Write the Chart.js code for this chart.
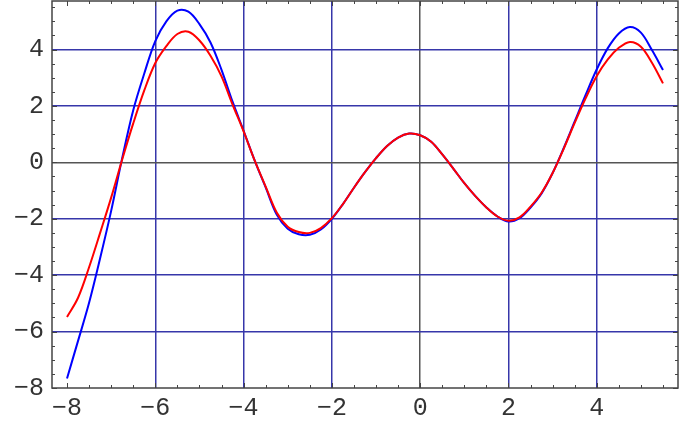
<!DOCTYPE html>
<html>
<head>
  <meta charset="UTF-8">
  <title>Curves</title>
  <script src="https://cdn.jsdelivr.net/npm/chart.js"></script>
  <style>
    * { margin: 0; padding: 0; box-sizing: border-box; }
    body { background: #fff; width: 685px; height: 424px; overflow: hidden; }
    canvas { display: block; }
  </style>
</head>
<body>
  <canvas id="plot" width="685" height="424"></canvas>

  <script>
    // sample positions along x
    const xs = [-8, -7.75, -7.5, -7.25, -7, -6.75, -6.5, -6.25, -6, -5.75, -5.5, -5.25, -5, -4.75, -4.5, -4.25,
      -4, -3.75, -3.5, -3.25, -3, -2.75, -2.5, -2.25, -2, -1.75, -1.5, -1.25, -1, -0.75, -0.5, -0.25,
      0, 0.25, 0.5, 0.75, 1, 1.25, 1.5, 1.75, 2, 2.25, 2.5, 2.75, 3, 3.25, 3.5, 3.75, 4, 4.25, 4.5, 4.75, 5, 5.25, 5.5];

    const blueY = [-7.66, -6.33, -4.98, -3.4, -1.72, 0.15, 1.85, 3.15, 4.3, 5.0, 5.38, 5.34, 4.9, 4.25, 3.28, 2.15,
      1.12, 0.07, -0.89, -1.85, -2.35, -2.55, -2.57, -2.38, -2.0, -1.48, -0.9, -0.35, 0.15, 0.58, 0.88, 1.02,
      0.96, 0.73, 0.28, -0.22, -0.74, -1.2, -1.6, -1.92, -2.1, -1.98, -1.6, -1.1, -0.38, 0.5, 1.45, 2.4, 3.3, 4.05, 4.57, 4.8, 4.6, 3.98, 3.27];

    const redY = [-5.48, -4.8, -3.72, -2.5, -1.25, 0.1, 1.38, 2.55, 3.52, 4.12, 4.55, 4.63, 4.32, 3.78, 3.05, 2.05,
      1.1, 0.07, -0.86, -1.78, -2.28, -2.47, -2.5, -2.33, -1.98, -1.48, -0.9, -0.35, 0.15, 0.58, 0.88, 1.02,
      0.96, 0.73, 0.28, -0.22, -0.74, -1.2, -1.6, -1.92, -2.07, -1.95, -1.57, -1.08, -0.38, 0.48, 1.4, 2.28, 3.06, 3.65, 4.06, 4.27, 4.1, 3.53, 2.8];

    const xTicks = [-8, -6, -4, -2, 0, 2, 4];
    const yTicks = [-8, -6, -4, -2, 0, 2, 4];

    const gridBlue = 'rgb(55,55,170)';
    const zeroColor = '#555';
    const frameColor = '#444';
    const labelFont = { family: "'Liberation Mono', 'DejaVu Sans Mono', monospace", size: 25 };

    const fmt = v => (v < 0 ? '\u2212' + Math.abs(v) : String(v));
    const gridColor = c => {
      const v = c.tick ? c.tick.value : null;
      if (v === 0) return zeroColor;
      if (v === -8) return 'rgba(0,0,0,0)';
      return gridBlue;
    };

    // frame around the plot + small ticks on all four sides
    const frameTicks = {
      id: 'frameTicks',
      afterDatasetsDraw(chart) {
        const { ctx, chartArea: a, scales: { x, y } } = chart;
        ctx.save();
        ctx.strokeStyle = frameColor;
        ctx.lineWidth = 1;
        ctx.beginPath();
        for (let v = -8; v <= 5.5; v += 0.5) {
          const px = Math.round(x.getPixelForValue(v)) + 0.5;
          const len = v % 2 === 0 ? 5 : 3;
          ctx.moveTo(px, a.bottom); ctx.lineTo(px, a.bottom - len);
          ctx.moveTo(px, a.top); ctx.lineTo(px, a.top + len);
        }
        for (let v = -8; v <= 5.5; v += 0.5) {
          const py = Math.round(y.getPixelForValue(v)) + 0.5;
          const len = v % 2 === 0 ? 5 : 3;
          ctx.moveTo(a.left, py); ctx.lineTo(a.left + len, py);
          ctx.moveTo(a.right, py); ctx.lineTo(a.right - len, py);
        }
        ctx.stroke();
        ctx.lineWidth = 1.5;
        ctx.strokeRect(a.left, a.top, a.right - a.left, a.bottom - a.top);
        ctx.restore();
      }
    };

    new Chart(document.getElementById('plot').getContext('2d'), {
      type: 'line',
      data: {
        datasets: [
          {
            data: xs.map((x, i) => ({ x, y: redY[i] })),
            borderColor: '#ff0000',
            borderWidth: 2,
            pointRadius: 0,
            tension: 0.35,
            fill: false
          },
          {
            data: xs.map((x, i) => ({ x, y: blueY[i] })),
            borderColor: '#0000ff',
            borderWidth: 2,
            pointRadius: 0,
            tension: 0.35,
            fill: false
          }
        ]
      },
      options: {
        responsive: false,
        animation: false,
        layout: { padding: { top: 1, right: 7, left: 0, bottom: 0 } },
        plugins: { legend: { display: false }, tooltip: { enabled: false } },
        scales: {
          x: {
            type: 'linear',
            min: -8.34,
            max: 5.84,
            afterBuildTicks: s => { s.ticks = xTicks.map(v => ({ value: v })); },
            afterFit: s => { s.height = 36; s.paddingLeft = 0; s.paddingRight = 0; },
            border: { display: false },
            grid: { color: gridColor, lineWidth: 1.5, drawTicks: false },
            ticks: { color: '#333', font: labelFont, padding: 5, maxRotation: 0, autoSkip: false, callback: fmt }
          },
          y: {
            type: 'linear',
            min: -8,
            max: 5.72,
            afterBuildTicks: s => { s.ticks = yTicks.map(v => ({ value: v })); },
            afterFit: s => { s.width = 52; s.paddingTop = 0; s.paddingBottom = 0; },
            border: { display: false },
            grid: { color: gridColor, lineWidth: 1.5, drawTicks: false },
            ticks: { color: '#333', font: labelFont, padding: 8, autoSkip: false, callback: fmt }
          }
        }
      },
      plugins: [frameTicks]
    });
  </script>
</body>
</html>
